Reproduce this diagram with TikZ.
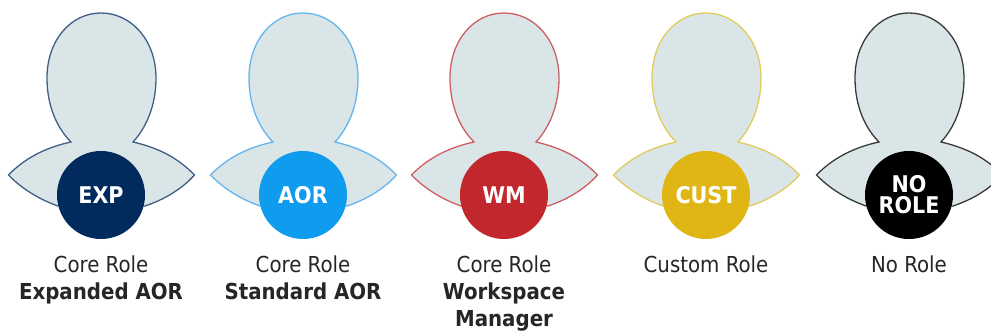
\documentclass[tikz,border=0pt]{standalone}
\usepackage{fontspec}
\setmainfont{DejaVu Sans Condensed}[BoldFont={DejaVu Sans Condensed Bold}]
\definecolor{bodyfill}{HTML}{DAE5E8}
\definecolor{cA}{HTML}{002B5C}\definecolor{lA}{HTML}{3F5F85}
\definecolor{cB}{HTML}{0F9BEE}\definecolor{lB}{HTML}{62B5EE}
\definecolor{cC}{HTML}{C1272D}\definecolor{lC}{HTML}{CC5F63}
\definecolor{cD}{HTML}{E0B615}\definecolor{lD}{HTML}{E0CC5C}
\definecolor{cE}{HTML}{000000}\definecolor{lE}{HTML}{3A3A3A}
\tikzset{
  figure/.style={fill=bodyfill,line width=1.3pt,line join=miter},
  badge/.style={circle,minimum size=88pt,inner sep=0pt,text=white,align=center,font=\fontsize{23}{21}\selectfont\bfseries},
  rolelabel/.style={anchor=north,align=center,inner sep=0pt,text=black!85,font=\fontsize{22}{27}\selectfont},
}
\newcommand{\person}[1]{%
  \draw[figure,draw=#1]
    (-30,142) .. controls (-44,128) and (-54,106) .. (-54,78)
    .. controls (-54,40) and (-30,13) .. (0,13)
    .. controls (30,13) and (55,40) .. (55,78)
    .. controls (55,106) and (45,128) .. (32,142)
    .. controls (58,148) and (77,158) .. (93.5,175)
    .. controls (80,190) and (62,200) .. (44,206)
    -- (-43,206)
    .. controls (-60,200) and (-78,190) .. (-92.5,175)
    .. controls (-78,160) and (-58,148) .. (-30,142) -- cycle;}
\begin{document}
\begin{tikzpicture}[x=1pt,y=-1pt]
\useasboundingbox (0,0) rectangle (991,331);
\clip (0,0) rectangle (991,331);
\begin{scope}[shift={(101,0)}]
  \person{lA}
  \node[badge,fill=cA] (expb) at (0,195) {EXP};
  \node[rolelabel] (expl) at (0,256) {Core Role\\\textbf{Expanded AOR}};
\end{scope}
\begin{scope}[shift={(303,0)}]
  \person{lB}
  \node[badge,fill=cB] (aorb) at (0,195) {AOR};
  \node[rolelabel] (aorl) at (0,256) {Core Role\\\textbf{Standard AOR}};
\end{scope}
\begin{scope}[shift={(504,0)}]
  \person{lC}
  \node[badge,fill=cC] (wmb) at (0,195) {WM};
  \node[rolelabel] (wml) at (0,256) {Core Role\\\textbf{Workspace}\\\textbf{Manager}};
\end{scope}
\begin{scope}[shift={(706,0)}]
  \person{lD}
  \node[badge,fill=cD] (cub) at (0,195) {CUST};
  \node[rolelabel] (cul) at (0,256) {Custom Role};
\end{scope}
\begin{scope}[shift={(909,0)}]
  \person{lE}
  \node[badge,fill=cE] (nob) at (0,195) {NO\\ROLE};
  \node[rolelabel] (nol) at (0,256) {No Role};
\end{scope}
\end{tikzpicture}
\end{document}
